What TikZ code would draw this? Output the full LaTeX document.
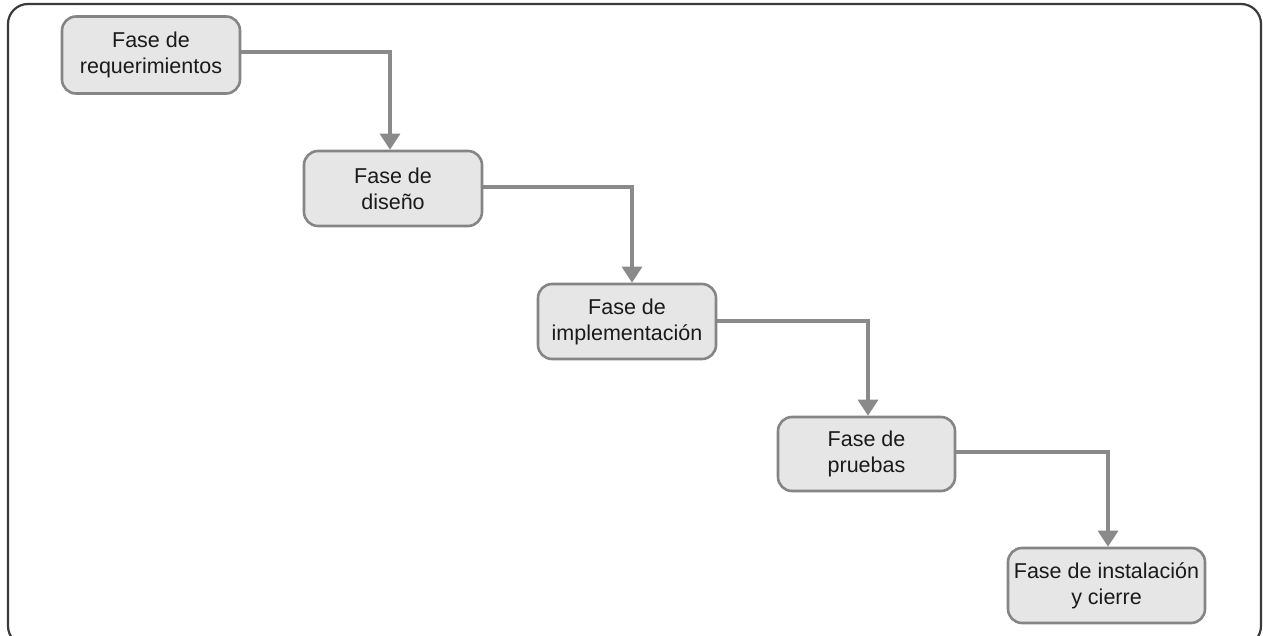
\documentclass[tikz,border=0pt]{standalone}
\usepackage{fontspec}
\setmainfont{Liberation Sans}
\usetikzlibrary{arrows.meta}
\definecolor{boxfill}{HTML}{E6E6E6}
\definecolor{boxline}{HTML}{858585}
\definecolor{arrowgray}{HTML}{8A8A8A}
\definecolor{framegray}{HTML}{3A3A3A}
\definecolor{textdark}{HTML}{1A1A1A}
\begin{document}
\begin{tikzpicture}[x=1pt,y=-1pt,
  phase/.style={draw=boxline, line width=2.6pt, fill=boxfill, rounded corners=14pt,
    minimum height=75pt, align=center, inner sep=0pt, text=textdark,
    font=\fontsize{21.5}{26}\selectfont},
  flow/.style={draw=arrowgray, line width=3.2pt,
    -{Triangle[width=20pt,length=16pt]}}]
  \useasboundingbox (0,0) rectangle (1263,636);
  % outer frame (its lower edge runs just past the page)
  \draw[framegray, line width=2.2pt, rounded corners=20pt] (8,4) rectangle (1261,646);

  % the five phases
  \node[phase, minimum width=178pt, minimum height=77pt] (req) at (151,55) {Fase de\\requerimientos};
  \node[phase, minimum width=178pt] (dis) at (393,188.5) {Fase de\\diseño};
  \node[phase, minimum width=178pt] (imp) at (627,321.5) {Fase de\\implementación};
  \node[phase, minimum width=177pt, minimum height=74pt] (pru) at (866.5,454) {Fase de\\pruebas};
  \node[phase, minimum width=197pt] (ins) at (1106.5,585.5) {Fase de instalación\\y cierre};

  % connectors: out of the right side, then down into the next phase
  \draw[flow] ([yshift=3pt]req.east) -| ([xshift=-3pt]dis.north);
  \draw[flow] ([yshift=1.5pt]dis.east) -| ([xshift=5pt]imp.north);
  \draw[flow] ([yshift=0.5pt]imp.east) -| ([xshift=1.5pt]pru.north);
  \draw[flow] ([yshift=2pt]pru.east) -| ([xshift=1.5pt]ins.north);
\end{tikzpicture}
\end{document}
